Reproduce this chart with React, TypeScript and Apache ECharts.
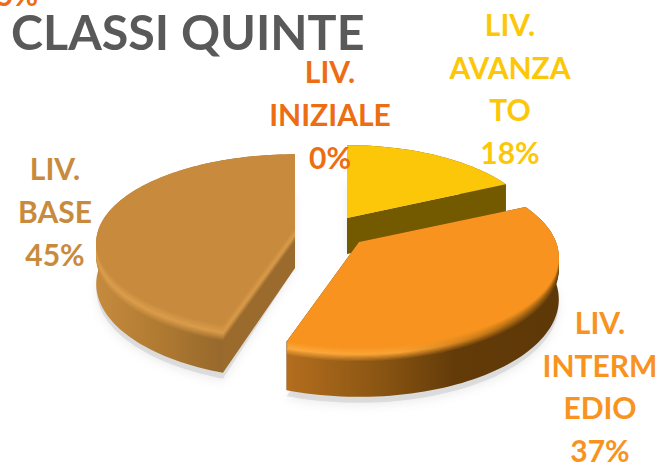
import React, { useEffect, useRef } from "react";
import * as echarts from "echarts";

const titleText = "CLASSI QUINTE";
const categories = ["LIV. AVANZATO", "LIV. INTERMEDIO", "LIV. BASE", "LIV. INIZIALE"];
const values = [18, 37, 45, 0];
const labelLines = ["LIV.\nAVANZA\nTO", "LIV.\nINTERM\nEDIO", "LIV.\nBASE", "LIV.\nINIZIALE"];
const strayLabel = "5%";

const colors = ["#FCC709", "#F7931E", "#C88B3E", "#ED6D13"];
const labelPos = [[510, 88], [600, 386], [55, 211], [330, 114]];
const apex = [[347, 218], [359, 242], [295, 228], [330, 230]];
const radiusX = [188, 197, 196, 190];
const radiusY = [85, 88, 86, 86];
const depth = [36, 41, 40, 40];
const perspective = 0.167;
const bevel = [0, 12, 14, 0];
const faceColor = ["#735A00", "#623A09", "#9B6B2D", "#888888"];
type Stop = [number, string];
const wallStops: Stop[][] = [
  [[340, "#735A00"], [510, "#735A00"]],
  [[290, "#B26D1E"], [380, "#8A5512"], [455, "#633B09"], [560, "#5E3807"]],
  [[97, "#C58A3E"], [160, "#B07A32"], [220, "#97692C"]],
  [[0, "#888888"], [1, "#888888"]],
];
const glowStops: Stop[][] = [
  [[340, "#FCC709"], [510, "#FCC709"]],
  [[290, "#FCA93C"], [400, "#F9A232"], [480, "#C97A18"], [560, "#8A5610"]],
  [[97, "#DC9E4C"], [220, "#D99B49"]],
  [[0, "#888888"], [1, "#888888"]],
];

const total = values.reduce((a, b) => a + b, 0);

function hex(c: string) {
  return [1, 3, 5].map((i) => parseInt(c.slice(i, i + 2), 16));
}
function mix(a: string, b: string, t: number) {
  const x = hex(a), y = hex(b);
  return "rgb(" + x.map((v, i) => Math.round(v + (y[i] - v) * t)).join(",") + ")";
}
function grad(stops: { x: number; c: string }[]) {
  const x0 = stops[0].x, x1 = stops[stops.length - 1].x;
  return new echarts.graphic.LinearGradient(
    x0, 0, x1, 0,
    stops.map((s) => ({ offset: (s.x - x0) / (x1 - x0), color: s.c })),
    true as any
  );
}
function sampleStops(st: Stop[], x: number) {
  for (let i = 0; i < st.length - 1; i++) {
    if (x <= st[i + 1][0]) {
      const t = Math.max(0, (x - st[i][0]) / (st[i + 1][0] - st[i][0]));
      const a = hex(st[i][1]), b = hex(st[i + 1][1]);
      return "#" + a.map((v, k) => Math.round(v + (b[k] - v) * t).toString(16).padStart(2, "0")).join("");
    }
  }
  return st[st.length - 1][1];
}

function renderSlice(params: any, api: any) {
  const i = params.dataIndex;
  const value = api.value(0);
  let before = 0;
  for (let k = 0; k < i; k++) before += values[k];
  const a0 = (before / total) * Math.PI * 2;
  const a1 = ((before + value) / total) * Math.PI * 2;
  const children: any[] = [];

  const proj = (u: number, v: number, drop: number) => {
    const w = 1 + perspective * v;
    return [
      apex[i][0] + (radiusX[i] * u) / w,
      apex[i][1] - (radiusY[i] * v) / w + drop / w,
    ];
  };
  const arc = (drop: number) => {
    const pts: number[][] = [];
    const n = Math.max(2, Math.ceil((a1 - a0) / 0.03));
    for (let s = 0; s <= n; s++) {
      const a = a0 + ((a1 - a0) * s) / n;
      pts.push(proj(Math.sin(a), Math.cos(a), drop));
    }
    return pts;
  };

  if (value > 0) {
    const D = depth[i];
    const top = [proj(0, 0, 0), ...arc(0)];
    // soft shadow
    children.push({
      type: "polygon", z2: 1,
      shape: { points: [proj(0, 0, D), ...arc(D + 5)] },
      style: { fill: "rgba(130,130,130,0.22)", shadowBlur: 10, shadowColor: "rgba(0,0,0,0.3)", shadowOffsetY: 3 },
    });
    const zb = 10 + i * 100;
    // cut faces
    const faces = [
      [proj(0, 0, 0), proj(Math.sin(a0), Math.cos(a0), 0), proj(Math.sin(a0), Math.cos(a0), D), proj(0, 0, D)],
      [proj(0, 0, 0), proj(Math.sin(a1), Math.cos(a1), 0), proj(Math.sin(a1), Math.cos(a1), D), proj(0, 0, D)],
    ];
    faces.forEach((points) =>
      children.push({ type: "polygon", z2: zb, shape: { points }, style: { fill: faceColor[i] } })
    );
    // outer wall
    const rimTop = arc(0), rimBot = arc(D);
    children.push({
      type: "polygon", z2: zb + 1,
      shape: { points: [...rimTop, ...rimBot.reverse()] },
      style: { fill: grad(wallStops[i].map(([x, c]) => ({ x, c }))) },
    });
    // bevel layers
    const B = bevel[i];
    for (let o = B; o >= 1; o--) {
      const t = 1 - o / B;
      const xs = Array.from(new Set([...wallStops[i], ...glowStops[i]].map((s) => s[0]))).sort((p, q) => p - q);
      const col = (x: number) => {
        const w = sampleStops(wallStops[i], x), g = sampleStops(glowStops[i], x);
        return t < 0.5 ? mix(w, g, t / 0.5) : mix(g, colors[i], (t - 0.5) / 0.5);
      };
      children.push({
        type: "polygon", z2: zb + 2 + (B - o),
        shape: { points: [proj(0, 0, o), ...arc(o)] },
        style: { fill: grad(xs.map((x) => ({ x, c: col(x) }))) },
      });
    }
    // top
    children.push({
      type: "polygon", z2: zb + 40,
      shape: { points: top },
      style: { fill: colors[i] },
    });
  }
  children.push({
    type: "text", z2: 900,
    x: labelPos[i][0], y: labelPos[i][1],
    style: {
      text: labelLines[i] + "\n" + value + "%",
      fill: colors[i],
      font: "bold 30px Lato",
      align: "center",
      verticalAlign: "middle",
      lineHeight: 42.6,
    },
  });
  return { type: "group", children };
}

export default function App() {
  const ref = useRef<HTMLDivElement>(null);
  useEffect(() => {
    document.body.style.margin = "0";
    const chart = echarts.init(ref.current!, undefined, { renderer: "svg" });
    chart.setOption({
      animation: false,
      backgroundColor: "#FFFFFF",
      title: {
        text: titleText, left: 6, top: 2,
        textStyle: { fontFamily: "Lato", fontWeight: "bold", fontSize: 48.4, color: "#595959" },
      },
      graphic: [{
        type: "text", x: 17, y: -6,
        style: { text: strayLabel, fill: colors[3], font: "bold 30px Lato", align: "center", verticalAlign: "middle" },
      }],
      series: [{
        type: "custom",
        coordinateSystem: "none",
        renderItem: renderSlice,
        data: categories.map((name, i) => ({ name, value: [values[i]] })),
      }],
    });
    return () => chart.dispose();
  }, []);
  return <div ref={ref} style={{ width: 662, height: 464 }} />;
}
